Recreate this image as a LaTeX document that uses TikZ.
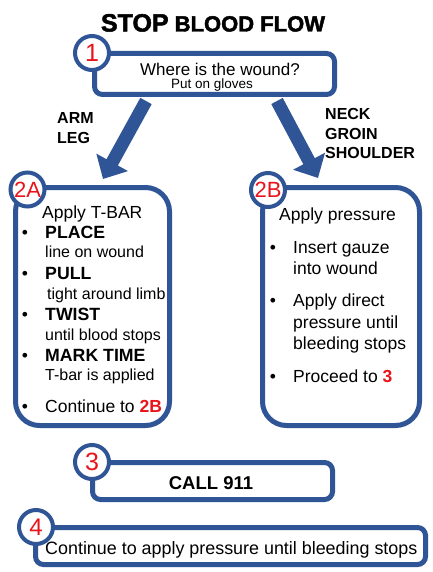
\documentclass[tikz,border=0pt]{standalone}
\usepackage{fontspec}
\setmainfont{Liberation Sans}
\newfontfamily\titlefont[BoldFeatures={FakeBold=2}]{Liberation Sans}
\usetikzlibrary{arrows.meta}
\definecolor{bblue}{HTML}{2F5597}
\definecolor{nred}{HTML}{E8141C}
\newcommand{\fs}[1]{\fontsize{#1}{#1}\selectfont}
\begin{document}
\begin{tikzpicture}[x=1pt,y=-1pt,
  box/.style={draw=bblue, line width=5pt, rounded corners=8pt, fill=white, inner sep=0pt},
  bigbox/.style={box, rounded corners=24pt},
  num/.style={circle, draw=bblue, line width=4pt, fill=white, minimum size=34pt, inner sep=0pt, text=nred, font=\fs{22}},
  txt/.style={anchor=base west, inner sep=0pt, font=\fs{17.5}},
  btxt/.style={anchor=base west, inner sep=0pt, font=\bfseries\fs{17.7}},
  small/.style={anchor=base west, inner sep=0pt, font=\fs{16}},
  bul/.style={anchor=base, inner sep=0pt, font=\fs{17.5}},
  lbl/.style={anchor=base west, inner sep=0pt, font=\bfseries\fs{16}},
  bigarrow/.style={draw=bblue, line width=13pt, -{Triangle[length=19pt,width=35pt]}},
]
\useasboundingbox[fill=white] (0,0) rectangle (432,572);

% title
\node[anchor=base, inner sep=0pt] (title) at (213,31.5) {\titlefont\bfseries{\fs{25}STOP}\fs{22} BLOOD FLOW};

% boxes
\node[box, minimum width=240pt, minimum height=41pt] (b1) at (214.5,74) {};
\node[bigbox, minimum width=154pt, minimum height=238pt] (b2a) at (92.5,306.5) {};
\node[bigbox, minimum width=157pt, minimum height=238pt] (b2b) at (341,306.5) {};
\node[box, minimum width=240pt, minimum height=37pt] (b3) at (212.5,481) {};
\node[box, minimum width=390pt, minimum height=37pt] (b4) at (230.5,546) {};

% number circles
\node[num, font=\fs{25}] (n1) at (92,53) {1};
\node[num] (n2a) at (27.5,189.5) {2A};
\node[num] (n2b) at (268,190) {2B};
\node[num, font=\fs{25}] (n3) at (92,462) {3};
\node[num, font=\fs{24}] (n4) at (36,527) {4};

% arrows
\coordinate (a1s) at (146,101);
\coordinate (a1e) at (103,179);
\coordinate (a2s) at (277,101);
\coordinate (a2e) at (318,178);
\draw[bigarrow] (a1s) -- (a1e);
\draw[bigarrow] (a2s) -- (a2e);

% box 1 text
\node[anchor=base, inner sep=0pt, font=\fs{17}] (q1) at (220,75.5) {Where is the wound?};
\node[anchor=base, inner sep=0pt, font=\fs{13.5}] (q1b) at (212,88.5) {Put on gloves};

% arrow labels
\node[lbl] (arm) at (57,124) {ARM};
\node[lbl] (leg) at (57,143.3) {LEG};
\node[lbl] (neck) at (325,120) {NECK};
\node[lbl] (groin) at (325,139.3) {GROIN};
\node[lbl] (shoulder) at (325,158.3) {SHOULDER};

% box 2A text
\node[txt] (ta0) at (42,218) {Apply T-BAR};
\node[bul] (ba1) at (25,238) {•};
\node[btxt] (ta1) at (45,238) {PLACE};
\node[small] (ta1s) at (45,257.3) {line on wound};
\node[bul] (ba2) at (25,279) {•};
\node[btxt] (ta2) at (45,279) {PULL};
\node[small] (ta2s) at (47,299.3) {tight around limb};
\node[bul] (ba3) at (25,320.7) {•};
\node[btxt] (ta3) at (45,320.7) {TWIST};
\node[small] (ta3s) at (45,340) {until blood stops};
\node[bul] (ba4) at (25,361.7) {•};
\node[btxt] (ta4) at (45,361.7) {MARK TIME};
\node[small] (ta4s) at (45,380.7) {T-bar is applied};
\node[bul] (ba5) at (25,412.3) {•};
\node[txt] (ta5) at (45,412.3) {Continue to \textcolor{nred}{\textbf{2B}}};

% box 2B text
\node[txt] (tb0) at (279,220.7) {Apply pressure};
\node[bul] (bb1) at (273,253.3) {•};
\node[txt] (tb1) at (293,253.3) {Insert gauze};
\node[txt] (tb1b) at (293,274) {into wound};
\node[bul] (bb2) at (273,306.7) {•};
\node[txt] (tb2) at (293,306.7) {Apply direct};
\node[txt] (tb2b) at (293,328.3) {pressure until};
\node[txt] (tb2c) at (293,349.3) {bleeding stops};
\node[bul] (bb3) at (273,382.7) {•};
\node[txt] (tb3) at (293,382.7) {Proceed to \textcolor{nred}{\textbf{3}}};

% box 3 and 4 text
\node[anchor=base, inner sep=0pt, font=\bfseries\fs{18.5}] (t3) at (211,489.5) {CALL 911};
\node[anchor=base west, inner sep=0pt, font=\fs{17.9}] (t4) at (45,554) {Continue to apply pressure until bleeding stops};
\end{tikzpicture}
\end{document}
